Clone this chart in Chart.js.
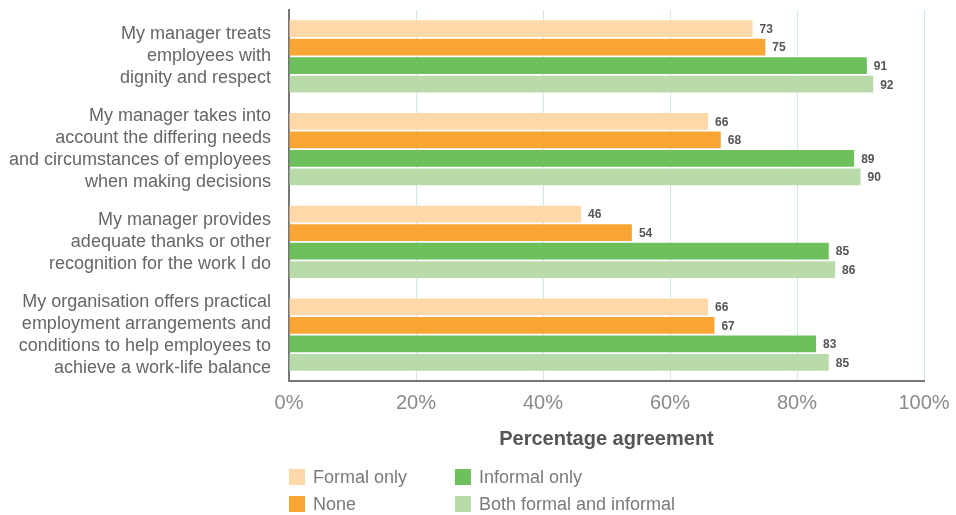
<!DOCTYPE html>
<html>
<head>
<meta charset="utf-8">
<script src="https://cdn.jsdelivr.net/npm/chart.js@4/dist/chart.umd.min.js"></script>
<style>
  html, body { margin: 0; padding: 0; background: #ffffff; }
  #wrap { position: relative; width: 956px; height: 515px; }
  #legend { position: absolute; left: 0; top: 0; width: 956px; height: 515px; pointer-events: none; }
  .li { position: absolute; display: flex; align-items: center; height: 16px;
        font-family: "Liberation Sans", Arial, sans-serif; font-size: 18px; color: #7a7a7a; white-space: nowrap; }
  .sw { width: 16px; height: 16px; margin-right: 8px; flex: none; }
</style>
</head>
<body>
<div id="wrap">
  <canvas id="c" width="956" height="515"></canvas>
  <div id="legend"></div>
</div>
<script>
// ---- data ----
const categories = [
  ["My manager treats", "employees with", "dignity and respect"],
  ["My manager takes into", "account the differing needs", "and circumstances of employees", "when making decisions"],
  ["My manager provides", "adequate thanks or other", "recognition for the work I do"],
  ["My organisation offers practical", "employment arrangements and", "conditions to help employees to", "achieve a work-life balance"]
];
const seriesNames = ["Formal only", "None", "Informal only", "Both formal and informal"];
const formalOnly = [73, 66, 46, 66];
const none = [75, 68, 54, 67];
const informalOnly = [91, 89, 85, 83];
const bothFormalInformal = [92, 90, 86, 85];
const xTickValues = [0, 20, 40, 60, 80, 100];
const xAxisTitle = "Percentage agreement";

const seriesValues = [formalOnly, none, informalOnly, bothFormalInformal];
const seriesColors = ["#FED8A8", "#F9A534", "#6DC05B", "#B8DBA9"];

const FONT = '"Liberation Sans", Arial, sans-serif';

const valueLabels = {
  id: 'valueLabels',
  afterDatasetsDraw(chart) {
    const ctx = chart.ctx;
    ctx.save();
    ctx.font = 'bold 12px ' + FONT;
    ctx.fillStyle = '#555555';
    ctx.textAlign = 'left';
    ctx.textBaseline = 'middle';
    chart.data.datasets.forEach((ds, di) => {
      const meta = chart.getDatasetMeta(di);
      meta.data.forEach((el, i) => {
        ctx.fillText(String(ds.data[i]), el.x + 7, el.y + 1);
      });
    });
    ctx.restore();
  }
};

new Chart(document.getElementById('c'), {
  type: 'bar',
  data: {
    labels: categories,
    datasets: seriesNames.map((n, i) => ({
      label: n,
      data: seriesValues[i],
      backgroundColor: seriesColors[i],
      borderWidth: 0,
      categoryPercentage: 0.8,
      barPercentage: 0.9
    }))
  },
  options: {
    indexAxis: 'y',
    responsive: false,
    animation: false,
    layout: { padding: { top: 10, right: 32, bottom: 54, left: 0 } },
    plugins: {
      legend: { display: false },
      tooltip: { enabled: false }
    },
    scales: {
      x: {
        min: 0, max: 100,
        afterBuildTicks(scale) { scale.ticks = xTickValues.map(v => ({ value: v })); },
        afterFit(scale) {
          scale.height = 80;
          scale.paddingLeft = 0; scale.paddingRight = 0;
          scale.paddingTop = 0; scale.paddingBottom = 0;
        },
        grid: { color: '#cde8f7', lineWidth: 1, drawTicks: false },
        border: { display: true, color: '#777777', width: 2 },
        ticks: {
          padding: 10,
          autoSkip: false,
          maxRotation: 0,
          color: '#8a8a8a',
          font: { family: FONT, size: 20 },
          callback: v => v + '%'
        },
        title: {
          display: true,
          text: xAxisTitle,
          color: '#555555',
          font: { family: FONT, size: 20, weight: 'bold' },
          padding: { top: 0, bottom: 10 }
        }
      },
      y: {
        afterFit(scale) {
          scale.width = 289;
          scale.paddingTop = 0; scale.paddingBottom = 0;
          scale.paddingLeft = 0; scale.paddingRight = 0;
        },
        grid: { display: false, drawTicks: false },
        border: { display: true, color: '#777777', width: 2 },
        ticks: {
          padding: 18,
          autoSkip: false,
          color: '#666666',
          font: { family: FONT, size: 18, lineHeight: 1.22 }
        }
      }
    }
  },
  plugins: [valueLabels]
});

// HTML legend (2 columns, column-major)
const leg = document.getElementById('legend');
seriesNames.forEach((n, i) => {
  const col = Math.floor(i / 2), row = i % 2;
  const d = document.createElement('div');
  d.className = 'li';
  d.style.left = (289 + col * 166) + 'px';
  d.style.top = (469 + row * 27) + 'px';
  const sw = document.createElement('span');
  sw.className = 'sw';
  sw.style.background = seriesColors[i];
  const t = document.createElement('span');
  t.textContent = n;
  d.appendChild(sw); d.appendChild(t);
  leg.appendChild(d);
});
</script>
</body>
</html>
